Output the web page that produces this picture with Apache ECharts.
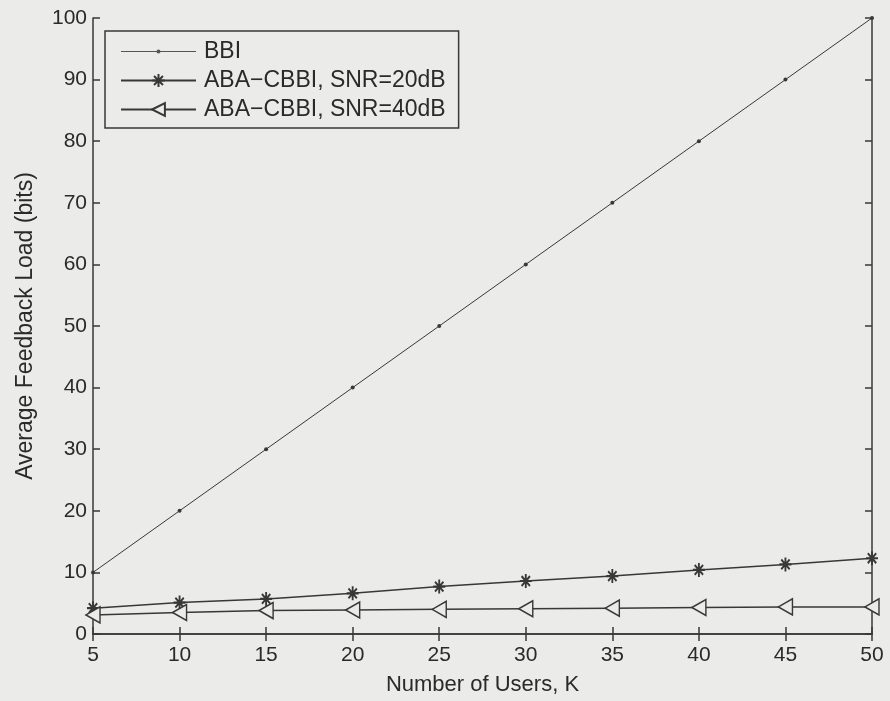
<!DOCTYPE html>
<html>
<head>
<meta charset="utf-8">
<script src="https://cdn.jsdelivr.net/npm/echarts@6/dist/echarts.min.js"></script>
<style>
  html, body { margin: 0; padding: 0; background: #ebebe9; }
  #chart { width: 890px; height: 701px; }
</style>
</head>
<body>
<div id="chart"></div>
<script>
// number of users K
const users = [5, 10, 15, 20, 25, 30, 35, 40, 45, 50];
// average feedback load (bits)
const bbi = [10, 20, 30, 40, 50, 60, 70, 80, 90, 100];
const snr20 = [4.2, 5.1, 5.7, 6.6, 7.7, 8.6, 9.4, 10.4, 11.3, 12.3];
const snr40 = [3.1, 3.5, 3.8, 3.9, 4.0, 4.1, 4.2, 4.3, 4.4, 4.4];
const seriesNames = ['BBI', 'ABA\u2212CBBI, SNR=20dB', 'ABA\u2212CBBI, SNR=40dB'];

const ink = '#383838';
const bg = '#ebebe9';
const font = '"Liberation Sans", Arial, sans-serif';

function pairs(ys) {
  return users.map(function (x, i) { return [x, ys[i]]; });
}

const star = 'path://M5,0 L5,10 M0,5 L10,5 M1.5,1.5 L8.5,8.5 M8.5,1.5 L1.5,8.5';
const leftTri = 'path://M0,5 L10,0 L10,10 Z';
// thin line with a small dot for the BBI legend entry
const bbiIcon = 'path://M0,7.5 L75,7.5 L75,8.5 L0,8.5 Z M35.5,8 A2,2 0 1 1 39.5,8 A2,2 0 1 1 35.5,8 Z';

const chart = echarts.init(document.getElementById('chart'));

const axisCommon = {
  axisLine: { show: true, lineStyle: { color: ink, width: 1.5 } },
  axisTick: { show: true, inside: true, length: 7, lineStyle: { color: ink, width: 1.5 } },
  splitLine: { show: false }
};

chart.setOption({
  backgroundColor: bg,
  animation: false,
  grid: { left: 93, right: 18, top: 18, bottom: 67 },
  legend: {
    orient: 'vertical',
    left: 105,
    top: 31,
    padding: [9, 13, 7, 15],
    itemWidth: 75,
    itemHeight: 16,
    itemGap: 6,
    borderColor: ink,
    borderWidth: 1.5,
    borderRadius: 0,
    backgroundColor: bg,
    textStyle: { fontFamily: font, fontSize: 23, lineHeight: 23, color: '#2a2a2a', padding: [0, 0, 0, 3] },
    data: [
      { name: seriesNames[0], icon: bbiIcon, itemStyle: { color: '#555' } },
      seriesNames[1],
      seriesNames[2]
    ]
  },
  xAxis: [
    Object.assign({
      type: 'value', min: 5, max: 50, interval: 5, position: 'bottom',
      name: 'Number of Users, K', nameLocation: 'middle', nameGap: 40,
      nameTextStyle: { fontFamily: font, fontSize: 22, color: '#2a2a2a' },
      axisLabel: { fontFamily: font, fontSize: 21, color: '#2a2a2a', margin: 11 }
    }, axisCommon),
    Object.assign({
      type: 'value', min: 5, max: 50, interval: 5, position: 'top',
      axisLabel: { show: false }
    }, axisCommon)
  ],
  yAxis: [
    Object.assign({
      type: 'value', min: 0, max: 100, interval: 10, position: 'left',
      name: 'Average Feedback Load (bits)', nameLocation: 'middle', nameGap: 56,
      nameTextStyle: { fontFamily: font, fontSize: 23, color: '#2a2a2a' },
      axisLabel: { fontFamily: font, fontSize: 21, color: '#2a2a2a', margin: 6 }
    }, axisCommon),
    Object.assign({
      type: 'value', min: 0, max: 100, interval: 10, position: 'right',
      axisLabel: { show: false }
    }, axisCommon)
  ],
  series: [
    {
      name: seriesNames[0], type: 'line', data: pairs(bbi),
      symbol: 'circle', symbolSize: 4, showAllSymbol: true,
      lineStyle: { color: ink, width: 1 },
      itemStyle: { color: ink }
    },
    {
      name: seriesNames[1], type: 'line', data: pairs(snr20),
      symbol: star, symbolSize: [12, 14], showAllSymbol: true,
      lineStyle: { color: ink, width: 1.5 },
      itemStyle: { color: 'none', borderColor: ink, borderWidth: 2 }
    },
    {
      name: seriesNames[2], type: 'line', data: pairs(snr40),
      symbol: leftTri, symbolSize: [14, 16], showAllSymbol: true,
      lineStyle: { color: ink, width: 1.5 },
      itemStyle: { color: bg, borderColor: ink, borderWidth: 1.5 }
    }
  ]
});
</script>
</body>
</html>
